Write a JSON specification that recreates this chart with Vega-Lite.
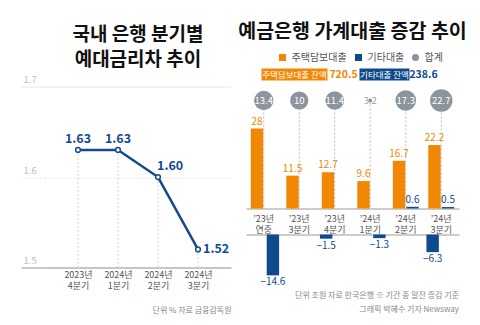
{
  "$schema": "https://vega.github.io/schema/vega-lite/v6.json",
  "background": "white",
  "padding": {"left": 20, "top": 21.5, "right": 4, "bottom": 2},
  "config": {
    "view": {"stroke": null},
    "font": "Noto Sans CJK KR",
    "axis": {"labelFont": "Noto Sans CJK KR", "titleFont": "Noto Sans CJK KR"},
    "legend": {"labelFont": "Noto Sans CJK KR"},
    "title": {"font": "Noto Sans CJK KR", "subtitleFont": "Noto Sans CJK KR"},
    "text": {"font": "Noto Sans CJK KR"}
  },
  "datasets": {
    "rate": [
      {"quarter": "2023년 4분기", "rate": 1.63},
      {"quarter": "2024년 1분기", "rate": 1.63},
      {"quarter": "2024년 2분기", "rate": 1.60},
      {"quarter": "2024년 3분기", "rate": 1.52}
    ],
    "loan": [
      {"period": "’23년 연중", "series": "주택담보대출", "value": 28},
      {"period": "’23년 연중", "series": "기타대출", "value": -14.6},
      {"period": "’23년 3분기", "series": "주택담보대출", "value": 11.5},
      {"period": "’23년 3분기", "series": "기타대출", "value": -1.5},
      {"period": "’23년 4분기", "series": "주택담보대출", "value": 12.7},
      {"period": "’23년 4분기", "series": "기타대출", "value": -1.3},
      {"period": "’24년 1분기", "series": "주택담보대출", "value": 9.6},
      {"period": "’24년 1분기", "series": "기타대출", "value": -6.3},
      {"period": "’24년 2분기", "series": "주택담보대출", "value": 16.7},
      {"period": "’24년 2분기", "series": "기타대출", "value": 0.6},
      {"period": "’24년 3분기", "series": "주택담보대출", "value": 22.2},
      {"period": "’24년 3분기", "series": "기타대출", "value": 0.5}
    ],
    "total": [
      {"period": "’23년 연중", "series": "합계", "total": 13.4},
      {"period": "’23년 3분기", "series": "합계", "total": 10},
      {"period": "’23년 4분기", "series": "합계", "total": 11.4},
      {"period": "’24년 1분기", "series": "합계", "total": 3.2},
      {"period": "’24년 2분기", "series": "합계", "total": 17.3},
      {"period": "’24년 3분기", "series": "합계", "total": 22.7}
    ],
    "balance": [
      {"label": "주택담보대출 잔액", "amount": 720.5},
      {"label": "기타대출 잔액", "amount": 238.6}
    ]
  },
  "spacing": 7,
  "resolve": {"scale": {"color": "independent", "shape": "independent", "size": "independent"}, "legend": {"color": "independent", "shape": "independent", "size": "independent"}},
  "hconcat": [
    {
      "width": 186,
      "height": 199,
      "title": {"text": ["국내 은행 분기별", "예대금리차 추이"], "fontSize": 19, "fontWeight": "bold", "lineHeight": 25, "color": "#111111", "anchor": "middle", "offset": -1},
      "data": {"name": "rate"},
      "encoding": {
        "x": {"field": "quarter", "type": "ordinal", "sort": null, "scale": {"type": "point", "padding": 0.825},
          "axis": {"labelExpr": "split(datum.label, ' ')", "labelAngle": 0, "ticks": false, "domainColor": "#9a9a9a", "labelPadding": 3, "labelFontSize": 9, "labelColor": "#555555", "labelLineHeight": 11,
            "title": "단위 %  자료 금융감독원", "titleAnchor": "end", "titleFontSize": 8, "titleFontWeight": "normal", "titleColor": "#888888", "titlePadding": 16}},
        "y": {"field": "rate", "type": "quantitative", "scale": {"domain": [1.5, 1.72], "nice": false, "zero": false},
          "axis": {"values": [1.5, 1.6, 1.7], "format": ".1f", "domain": false, "grid": true, "gridColor": "#e6e6e6",
            "gridDash": {"condition": {"test": "datum.value === 1.6", "value": [2, 2]}, "value": []},
            "ticks": true, "tickSize": 24,
            "tickColor": {"condition": {"test": "datum.value === 1.5", "value": "#9a9a9a"}, "value": "#e6e6e6"},
            "tickDash": {"condition": {"test": "datum.value === 1.6", "value": [2, 2]}, "value": []},
            "labelAlign": "left", "labelBaseline": "bottom", "labelPadding": -2, "labelOffset": -2, "labelFlush": false,
            "labelColor": "#c0c0c0", "labelFontSize": 9.5, "title": null}}
      },
      "layer": [
        {"mark": {"type": "rule", "color": "#cfcfcf", "strokeDash": [2, 2], "strokeWidth": 1}, "encoding": {"y2": {"datum": 1.5}}},
        {"mark": {"type": "line", "color": "#124b8f", "strokeWidth": 2.5}},
        {"mark": {"type": "point", "filled": true, "fill": "white", "stroke": "#124b8f", "strokeWidth": 1.5, "size": 22, "opacity": 1}},
        {"transform": [{"filter": "datum.rate > 1.62"}], "mark": {"type": "text", "fontSize": 12.5, "fontWeight": "bold", "color": "#124b8f", "baseline": "bottom", "dy": -4}, "encoding": {"text": {"field": "rate", "format": ".2f"}}},
        {"transform": [{"filter": "datum.rate > 1.55 && datum.rate < 1.62"}], "mark": {"type": "text", "fontSize": 12.5, "fontWeight": "bold", "color": "#124b8f", "baseline": "bottom", "align": "left", "dx": -1, "dy": -4}, "encoding": {"text": {"field": "rate", "format": ".2f"}}},
        {"transform": [{"filter": "datum.rate < 1.55"}], "mark": {"type": "text", "fontSize": 12.5, "fontWeight": "bold", "color": "#124b8f", "baseline": "middle", "align": "left", "dx": 5}, "encoding": {"text": {"field": "rate", "format": ".2f"}}}
      ]
    },
    {
      "title": {"text": "예금은행 가계대출 증감 추이", "fontSize": 19.5, "fontWeight": "bold", "color": "#111111", "anchor": "middle", "offset": 10.5},
      "center": true,
      "spacing": 6,
      "resolve": {"scale": {"color": "independent", "shape": "independent", "size": "independent"}, "legend": {"color": "independent", "shape": "independent", "size": "independent"}},
      "vconcat": [
        {
          "bounds": "flush",
          "spacing": 2,
          "hconcat": [
            {"width": 66, "height": 12, "view": {"fill": "#f28705", "stroke": null},
              "layer": [
                {"data": {"name": "balance"}, "transform": [{"filter": "datum.label === '주택담보대출 잔액'"}],
                  "mark": {"type": "text", "color": "white", "fontSize": 8.5}, "encoding": {"text": {"field": "label"}}},
                {"data": {"name": "total"}, "transform": [{"filter": "false"}],
                  "mark": {"type": "point", "filled": true, "opacity": 1},
                  "encoding": {
                    "color": {"field": "series", "type": "nominal", "scale": {"domain": ["주택담보대출", "기타대출", "합계"], "range": ["#f28705", "#0e4a8c", "#8c959d"]},
                      "legend": {"title": null, "orient": "none", "legendX": 16, "legendY": -16, "direction": "horizontal", "symbolSize": 50, "symbolStrokeWidth": 0, "symbolOpacity": 1, "labelFontSize": 10, "labelColor": "#555555", "labelOffset": 4, "columnPadding": 6, "padding": 0}},
                    "shape": {"field": "series", "type": "nominal", "scale": {"domain": ["주택담보대출", "기타대출", "합계"], "range": ["square", "square", "circle"]},
                      "legend": {"title": null, "orient": "none", "legendX": 16, "legendY": -16, "direction": "horizontal", "symbolSize": 50, "symbolStrokeWidth": 0, "symbolOpacity": 1, "labelFontSize": 10, "labelColor": "#555555", "labelOffset": 4, "columnPadding": 6, "padding": 0}}
                  }}
              ]},
            {"width": 28, "height": 12, "data": {"name": "balance"}, "transform": [{"filter": "datum.label === '주택담보대출 잔액'"}],
              "mark": {"type": "text", "color": "#f28705", "fontSize": 10.5, "fontWeight": "bold"}, "encoding": {"text": {"field": "amount", "format": ".1f"}}},
            {"width": 50, "height": 12, "view": {"fill": "#0e4a8c", "stroke": null}, "data": {"name": "balance"}, "transform": [{"filter": "datum.label === '기타대출 잔액'"}],
              "mark": {"type": "text", "color": "white", "fontSize": 8.5}, "encoding": {"text": {"field": "label"}}},
            {"width": 24, "height": 12, "data": {"name": "balance"}, "transform": [{"filter": "datum.label === '기타대출 잔액'"}],
              "mark": {"type": "text", "color": "#0e4a8c", "fontSize": 10.5, "fontWeight": "bold"}, "encoding": {"text": {"field": "amount", "format": ".1f"}}}
          ]
        },
        {
          "spacing": 0,
          "resolve": {"scale": {"color": "independent", "size": "independent"}, "legend": {"color": "independent", "size": "independent"}},
          "vconcat": [
            {
              "width": 213,
              "height": 122,
              "layer": [
                {"data": {"name": "total"}, "mark": {"type": "rule", "color": "#b9bec3", "strokeDash": [2, 2], "strokeWidth": 1},
                  "encoding": {
                    "x": {"field": "period", "type": "nominal", "sort": ["’23년 연중", "’23년 3분기", "’23년 4분기", "’24년 1분기", "’24년 2분기", "’24년 3분기"], "scale": {"paddingInner": 0.27, "paddingOuter": 0.135},
                      "axis": {"labelExpr": "split(datum.label, ' ')", "labelAngle": 0, "ticks": false, "domainColor": "#9a9a9a", "labelFontSize": 9, "labelColor": "#555555", "labelPadding": 6, "labelLineHeight": 11, "title": null}},
                    "y": {"datum": 37.8, "type": "quantitative", "scale": {"domain": [0, 42.7], "nice": false}, "axis": null},
                    "y2": {"datum": 0}
                  }},
                {"data": {"name": "loan"}, "transform": [{"filter": "datum.value > 0"}], "mark": {"type": "bar"},
                  "encoding": {
                    "x": {"field": "period", "type": "nominal", "sort": ["’23년 연중", "’23년 3분기", "’23년 4분기", "’24년 1분기", "’24년 2분기", "’24년 3분기"]},
                    "xOffset": {"field": "series", "scale": {"domain": ["주택담보대출", "기타대출"], "paddingInner": 0.08}},
                    "y": {"field": "value", "type": "quantitative"},
                    "color": {"field": "series", "type": "nominal", "scale": {"domain": ["주택담보대출", "기타대출", "합계"], "range": ["#f28705", "#0e4a8c", "#8c959d"]}, "legend": null}
                  }},
                {"data": {"name": "loan"}, "transform": [{"filter": "datum.value > 0"}], "mark": {"type": "text", "baseline": "bottom", "dy": -2, "fontSize": 10},
                  "encoding": {
                    "x": {"field": "period", "type": "nominal", "sort": ["’23년 연중", "’23년 3분기", "’23년 4분기", "’24년 1분기", "’24년 2분기", "’24년 3분기"]},
                    "xOffset": {"field": "series"},
                    "y": {"field": "value", "type": "quantitative"},
                    "text": {"field": "value", "format": "~g"},
                    "color": {"condition": {"test": "datum.series === '주택담보대출'", "value": "#f28705"}, "value": "#0e4a8c"}
                  }},
                {"data": {"name": "total"}, "mark": {"type": "point", "filled": true, "opacity": 1, "strokeWidth": 0},
                  "encoding": {
                    "x": {"field": "period", "type": "nominal", "sort": ["’23년 연중", "’23년 3분기", "’23년 4분기", "’24년 1분기", "’24년 2분기", "’24년 3분기"]},
                    "y": {"datum": 37.8, "type": "quantitative"},
                    "size": {"field": "total", "type": "quantitative", "scale": {"domain": [3.2, 10, 22.7], "range": [15, 330, 500]}, "legend": null},
                    "color": {"field": "series", "type": "nominal", "legend": null}
                  }},
                {"data": {"name": "total"}, "mark": {"type": "text", "fontSize": 9.5},
                  "encoding": {
                    "x": {"field": "period", "type": "nominal", "sort": ["’23년 연중", "’23년 3분기", "’23년 4분기", "’24년 1분기", "’24년 2분기", "’24년 3분기"]},
                    "y": {"datum": 37.8, "type": "quantitative"},
                    "text": {"field": "total", "format": "~g"},
                    "color": {"condition": {"test": "datum.total > 5", "value": "white"}, "value": "#9aa1a8"}
                  }}
              ]
            },
            {
              "width": 213,
              "height": 42,
              "data": {"name": "loan"},
              "transform": [{"filter": "datum.value < 0"}],
              "title": {"text": "단위 조원  자료 한국은행 ※ 기간 중 말잔 증감 기준", "subtitle": "그래픽 박혜수 기자   Newsway", "orient": "bottom", "anchor": "end", "fontSize": 8, "fontWeight": "normal", "color": "#888888", "subtitleFontSize": 8, "subtitleColor": "#888888", "offset": 5, "subtitlePadding": 6},
              "encoding": {
                "x": {"field": "period", "type": "nominal", "sort": ["’23년 연중", "’23년 3분기", "’23년 4분기", "’24년 1분기", "’24년 2분기", "’24년 3분기"], "scale": {"paddingInner": 0.27, "paddingOuter": 0.135},
                  "axis": {"orient": "top", "labels": false, "ticks": false, "domainColor": "#9a9a9a", "title": null}},
                "xOffset": {"field": "series", "scale": {"domain": ["주택담보대출", "기타대출"], "paddingInner": 0.08}},
                "y": {"field": "value", "type": "quantitative", "scale": {"domain": [-15, 0], "nice": false}, "axis": null}
              },
              "layer": [
                {"mark": {"type": "bar", "color": "#0e4a8c"}},
                {"mark": {"type": "text", "baseline": "top", "dy": 2, "fontSize": 10, "color": "#0e4a8c"}, "encoding": {"text": {"field": "value", "format": "~g"}}}
              ]
            }
          ]
        }
      ]
    }
  ]
}
